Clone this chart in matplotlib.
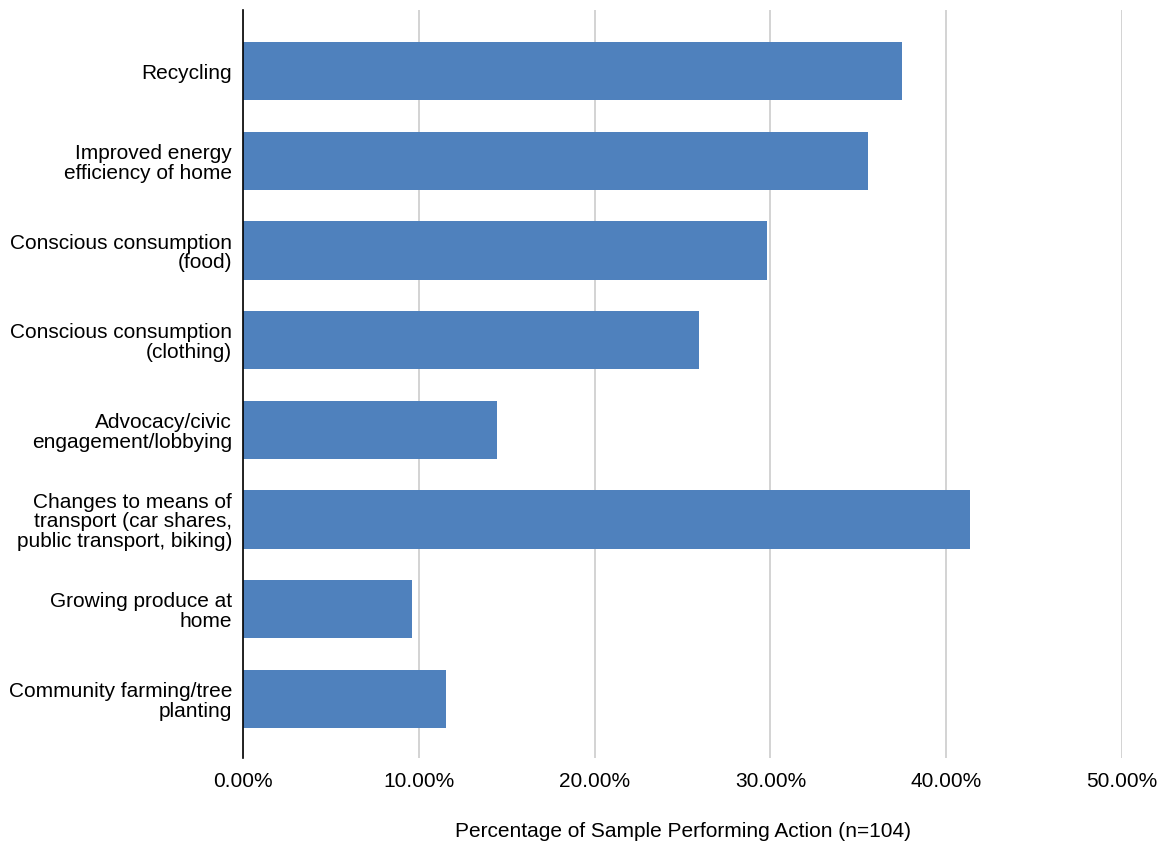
import matplotlib
matplotlib.use("Agg")
import matplotlib.pyplot as plt
from matplotlib.ticker import FuncFormatter

plt.rcParams['font.family'] = ['Liberation Sans', 'DejaVu Sans']

# actions and share of sample (n=104)
actions = [
    "Recycling",
    "Improved energy\nefficiency of home",
    "Conscious consumption\n(food)",
    "Conscious consumption\n(clothing)",
    "Advocacy/civic\nengagement/lobbying",
    "Changes to means of\ntransport (car shares,\npublic transport, biking)",
    "Growing produce at\nhome",
    "Community farming/tree\nplanting",
]
counts = [39, 37, 31, 27, 15, 43, 10, 12]
share = [c / 104 for c in counts]

fig = plt.figure(figsize=(11.65, 8.49), dpi=100)
ax = fig.add_axes([0.2086, 0.107, 0.7545, 0.881])

ypos = range(len(actions))
ax.barh(ypos, share, height=0.65, color="#4F81BD", zorder=3)

ax.set_xlim(0, 0.5)
ax.set_ylim(len(actions) - 0.34, -0.68)
ax.set_yticks(list(ypos))
ax.set_yticklabels(actions, fontsize=15, linespacing=1.05)
ax.set_xticks([0, 0.1, 0.2, 0.3, 0.4, 0.5])
ax.xaxis.set_major_formatter(FuncFormatter(lambda v, p: "%.2f%%" % (v * 100)))
ax.tick_params(axis='x', labelsize=15, length=0, pad=10)
ax.tick_params(axis='y', length=0, pad=8)

ax.grid(axis='x', color="#cccccc", linewidth=1.2, zorder=0)
for s in ['top', 'right', 'bottom']:
    ax.spines[s].set_visible(False)
ax.spines['left'].set_color('black')
ax.spines['left'].set_linewidth(1.2)
ax.spines['left'].set_zorder(4)

ax.set_xlabel("Percentage of Sample Performing Action (n=104)", fontsize=15, labelpad=22)

fig.savefig("out.png", dpi=100)
